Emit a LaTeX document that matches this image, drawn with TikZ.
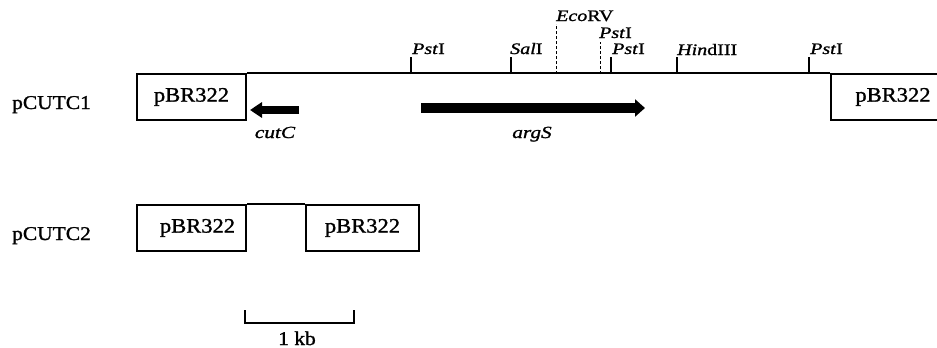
\documentclass[tikz,border=0pt]{standalone}
\usepackage{fontspec}
\setmainfont{Liberation Serif}
\newfontfamily\bigfont{Liberation Serif}[FakeStretch=1.1, FakeBold=1.3]
\newfontfamily\sitefont{Liberation Serif}[FakeStretch=1.25, FakeBold=1.3]
\usetikzlibrary{arrows.meta}

\tikzset{
  vector/.style={draw, line width=2.1pt, rectangle, inner sep=0pt,
    minimum height=46pt, font=\bigfont\fontsize{20.5}{20.5}\selectfont},
  mapline/.style={line width=2.2pt},
  sitetick/.style={line width=1.1pt},
  sitedash/.style={line width=1pt, dash pattern=on 3pt off 2pt},
  sitelabel/.style={anchor=base west, inner sep=0pt,
    font=\sitefont\fontsize{16}{16}\selectfont},
  gene/.style={line width=#1, line cap=butt},
  genelabel/.style={anchor=base, inner sep=0pt,
    font=\sitefont\itshape\fontsize{17}{17}\selectfont},
  plasmid/.style={anchor=base west, inner sep=0pt,
    font=\bigfont\fontsize{19.5}{19.5}\selectfont},
  scalebar/.style={line width=2pt}
}

\begin{document}
\begin{tikzpicture}[x=1pt,y=-1pt]
\useasboundingbox (0,0) rectangle (937,348);
\clip (0,0) rectangle (937,348);

% ---- pCUTC1 ----
\node[plasmid] (n1) at (12,109) {pCUTC1};
\node[vector, minimum width=109pt] (v1l) at (191.5,97) {pBR322};
\node[vector, minimum width=124pt] (v1r) at (893,97) {pBR322};
\draw[mapline] (v1l.north east) -- (v1r.north west);

% restriction sites on the insert
\coordinate (b1) at (411,74);  \coordinate (t1) at (411,57);
\coordinate (b2) at (511,74);  \coordinate (t2) at (511,57);
\coordinate (b3) at (556,74);  \coordinate (t3) at (556,24);
\coordinate (b4) at (600,74);  \coordinate (t4) at (600,42);
\coordinate (b5) at (611,74);  \coordinate (t5) at (611,57);
\coordinate (b6) at (677,74);  \coordinate (t6) at (677,57);
\coordinate (b7) at (809,74);  \coordinate (t7) at (809,57);

\draw[sitetick] (b1) -- (t1);
\draw[sitetick] (b2) -- (t2);
\draw[sitedash] (b3) -- (t3);
\draw[sitedash] (b4) -- (t4);
\draw[sitetick] (b5) -- (t5);
\draw[sitetick] (b6) -- (t6);
\draw[sitetick] (b7) -- (t7);

\node[sitelabel] (l1) at (412,54) {\textit{Pst}I};
\node[sitelabel] (l2) at (510,54) {\textit{Sal}I};
\node[sitelabel] (l3) at (556,21) {\textit{Eco}RV};
\node[sitelabel] (l4) at (599,38) {\textit{Pst}I};
\node[sitelabel] (l5) at (612,54) {\textit{Pst}I};
\node[sitelabel] (l6) at (677,55) {\textit{Hin}dIII};
\node[sitelabel] (l7) at (810,54) {\textit{Pst}I};

% genes
\coordinate (c0) at (299,110); \coordinate (c1) at (250,110);
\draw[gene=8pt, -{Triangle[length=12pt,width=15pt]}] (c0) -- (c1);
\node[genelabel] (cl) at (275,138) {cutC};

\coordinate (a0) at (421,108); \coordinate (a1) at (645,108);
\draw[gene=10pt, -{Triangle[length=10pt,width=17pt]}] (a0) -- (a1);
\node[genelabel] (al) at (532,138) {argS};

% ---- pCUTC2 ----
\node[plasmid] (n2) at (12,240) {pCUTC2};
\node[vector, minimum width=109pt] (v2l) at (191.5,228) {\hspace*{12pt}pBR322};
\node[vector, minimum width=113pt] (v2r) at (362.5,228) {pBR322};
\draw[mapline] (v2l.north east) -- (v2r.north west);

% ---- scale bar ----
\coordinate (s0) at (245,310); \coordinate (s1) at (245,323);
\coordinate (s2) at (354,323); \coordinate (s3) at (354,310);
\draw[scalebar] (s0) -- (s1) -- (s2) -- (s3);
\node[plasmid, anchor=base] (kb) at (297,345) {1 kb};
\end{tikzpicture}
\end{document}
